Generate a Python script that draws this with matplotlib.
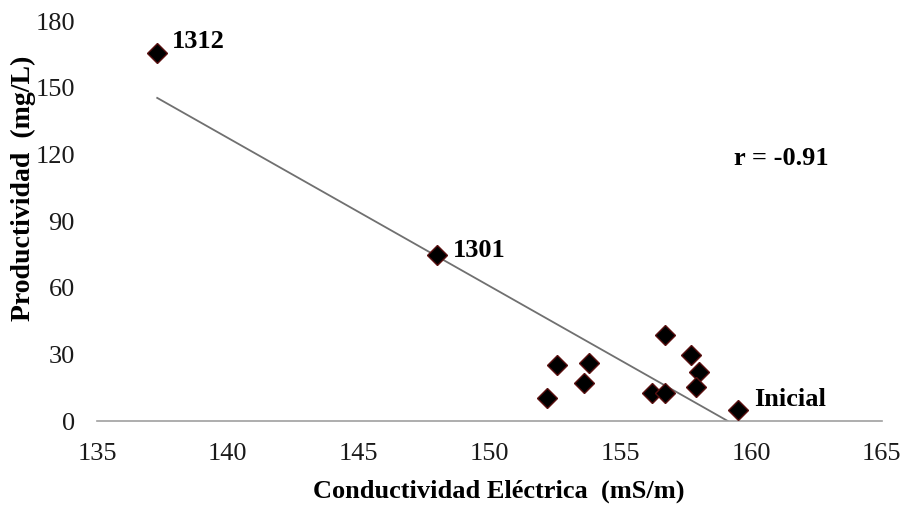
import numpy as np
import matplotlib
matplotlib.use("Agg")
import matplotlib.pyplot as plt

conductividad = [137.3, 148.0, 152.2, 152.6, 153.8, 153.6, 156.2, 156.7, 156.7, 157.7, 158.0, 157.9, 159.5]
productividad = [165.6, 74.7, 10.4, 25.2, 26.1, 17.1, 12.6, 12.6, 38.7, 29.7, 22.1, 15.3, 4.9]
etiquetas = {0: "1312", 1: "1301", 12: "Inicial"}
xticks = [135, 140, 145, 150, 155, 160, 165]
yticks = [0, 30, 60, 90, 120, 150, 180]

plt.rcParams['font.family'] = ['Liberation Serif', 'DejaVu Serif']

fig = plt.figure(figsize=(9.12, 5.05), dpi=100)
ax = fig.add_axes([0.1064, 0.1663, 0.967 - 0.1064, 0.958 - 0.1663])

x = np.array(conductividad)
y = np.array(productividad)
m, b = np.polyfit(x, y, 1)
x0 = x.min()
x1 = min(x.max(), -b / m)
ax.plot([x0, x1], [m * x0 + b, m * x1 + b], color='#707070', lw=1.3, zorder=2)

ax.plot(x, y, linestyle='none', marker='D', markersize=10.5,
        markerfacecolor='black', markeredgecolor='#5a1010', markeredgewidth=1.0, zorder=3)

offsets = {0: (0.57, 2.3), 1: (0.62, -0.9), 12: (0.6, 1.85)}
for i, lab in etiquetas.items():
    dx, dy = offsets[i]
    ax.text(x[i] + dx, y[i] + dy, lab, fontsize=19, fontweight='bold', va='baseline', ha='left')

r = np.corrcoef(x, y)[0, 1]
ax.text(159.35, 115.2, f"r = {r:.2f}", fontsize=19, fontweight='bold', va='baseline', ha='left')

ax.set_xlim(135, 165)
ax.set_ylim(0, 180)
ax.set_xticks(xticks)
ax.set_yticks(yticks)
ax.tick_params(axis='both', length=0, labelsize=19, colors='#1a1a1a', pad=16)
for s in ['top', 'right', 'left']:
    ax.spines[s].set_visible(False)
ax.spines['bottom'].set_color('#a0a0a0')
ax.spines['bottom'].set_linewidth(1.2)
ax.set_xlabel("Conductividad Eléctrica  (mS/m)", fontsize=19, fontweight='bold')
ax.set_ylabel("Productividad  (mg/L)", fontsize=20, fontweight='bold')
ax.xaxis.set_label_coords(0.512, -0.1475)
ax.yaxis.set_label_coords(-0.078, 0.5825)

fig.savefig("out.png", dpi=100)
